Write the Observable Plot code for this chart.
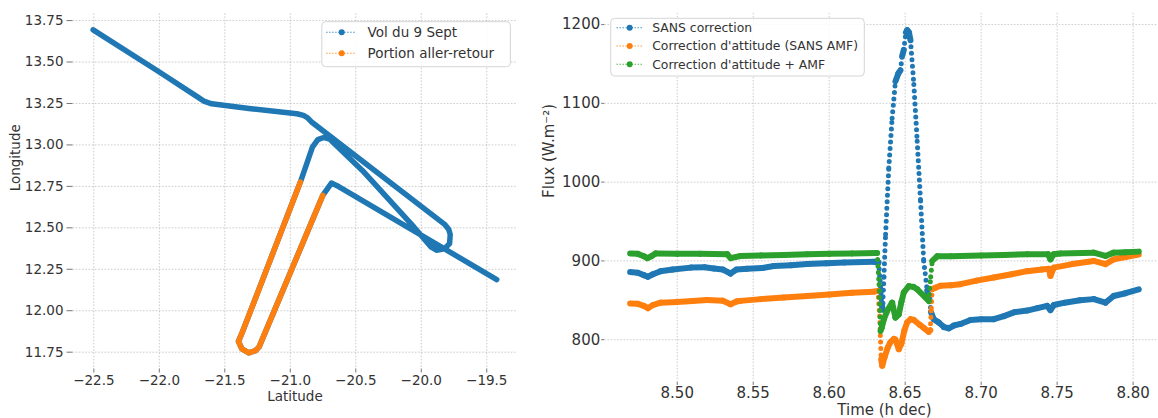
<!DOCTYPE html>
<html><head><meta charset="utf-8">
<script src="https://cdn.jsdelivr.net/npm/d3@7"></script>
<script src="https://cdn.jsdelivr.net/npm/@observablehq/plot@0.6"></script>
<style>
html,body{margin:0;padding:0;background:#fff;overflow:hidden;}
#wrap{position:relative;width:1158px;height:418px;font-family:"DejaVu Sans",sans-serif;}
#wrap > svg{position:absolute;top:0;}
</style></head><body><div id="wrap"></div>
<script>
// ---------- Left panel: flight track (Latitude, Longitude) ----------
const flightTrack = [
  [-22.505,13.694],[-22.0,13.44],[-21.70,13.285],[-21.655,13.262],[-21.60,13.248],
  [-21.3,13.218],[-20.95,13.188],[-20.90,13.178],[-20.87,13.165],[-20.84,13.14],
  [-19.819,12.519],[-19.79,12.49],[-19.779,12.459],[-19.784,12.405],[-19.824,12.373],
  [-19.884,12.365],[-19.924,12.383],[-20.055,12.504],[-20.450,12.846],[-20.70,13.035],
  [-20.745,13.045],[-20.79,13.032],[-20.831,12.987],[-20.923,12.776],[-21.370,11.863],
  [-21.396,11.815],[-21.37,11.770],[-21.317,11.746],[-21.265,11.760],[-21.238,11.782],
  [-20.752,12.696],[-20.686,12.770],[-20.647,12.756],[-19.424,12.188]
];
const roundTrip = [
  [-20.923,12.776],[-21.370,11.863],[-21.396,11.815],[-21.37,11.770],[-21.317,11.746],
  [-21.265,11.760],[-21.238,11.782],[-20.752,12.696]
];
const leftNames = ["Vol du 9 Sept", "Portion aller-retour"];
const latTicks = [-22.5,-22.0,-21.5,-21.0,-20.5,-20.0,-19.5];
const lonTicks = [11.75,12.00,12.25,12.50,12.75,13.00,13.25,13.50,13.75];

// ---------- Right panel: flux vs time ----------
const seriesNames = ["SANS correction", "Correction d'attitude (SANS AMF)", "Correction d'attitude + AMF"];
const seriesColors = ["#1f77b4", "#ff7f0e", "#2ca02c"];
const fluxSans = [
  [8.469,886],[8.474,885],[8.478,882],[8.4807,880],[8.484,883],[8.489,887],[8.497,889],
  [8.509,891.5],[8.518,892],[8.524,890.5],[8.530,889],[8.5351,884],[8.539,889],[8.546,890],
  [8.556,891],[8.5636,893.5],[8.575,894.5],[8.5855,896],[8.598,897],[8.610,898],[8.6293,899],
  [8.6325,898],[8.6335,875],[8.6345,845],[8.6352,838],[8.636,880],[8.6371,934],[8.6392,1018],
  [8.6414,1081],[8.6436,1128],[8.6455,1138],[8.6469,1142],[8.648,1160],[8.6491,1168],
  [8.6505,1190],[8.6513,1193],[8.6525,1190],[8.6535,1180],[8.6557,1124],[8.6579,1052],
  [8.6601,976],[8.6622,900],[8.6645,862],[8.6662,849],[8.667,835],[8.6688,826],[8.672,822],
  [8.6755,816],[8.6787,814.5],[8.682,818],[8.6864,820],[8.693,825],[8.700,826],[8.7083,826],
  [8.715,830],[8.722,835],[8.7303,837],[8.737,840],[8.7434,843],[8.7456,837.5],[8.7478,844],
  [8.755,847],[8.765,850],[8.7741,851.5],[8.7818,847],[8.7872,855.5],[8.795,859],[8.8037,864]
];
const fluxAttitude = [
  [8.469,846],[8.474,845.5],[8.478,843],[8.4807,840],[8.484,844],[8.489,847],[8.500,848],
  [8.510,849],[8.5197,850.5],[8.530,849.5],[8.5351,845],[8.539,848.5],[8.5416,849.3],
  [8.555,851.5],[8.570,853.5],[8.5855,855.6],[8.600,857.5],[8.615,859.5],[8.6293,861],
  [8.632,862],[8.6332,830],[8.6342,775],[8.6349,767],[8.6365,778],[8.6385,790],[8.6403,797],
  [8.6425,801],[8.6436,800],[8.6458,788],[8.6475,795],[8.6495,812],[8.6513,822],[8.6535,826],
  [8.6557,825],[8.6595,819],[8.6622,815],[8.6655,810],[8.6665,812],[8.6672,840],[8.6678,864],
  [8.6699,866],[8.6732,868.5],[8.680,869],[8.6864,870.5],[8.697,875],[8.7083,879],[8.720,883],
  [8.7303,887],[8.740,889],[8.7445,890],[8.7456,881],[8.7478,891.5],[8.760,896],[8.7741,900],
  [8.7818,896],[8.7872,902],[8.795,905],[8.8037,908]
];
const fluxAttitudeAMF = [
  [8.469,909.5],[8.474,909],[8.478,906],[8.4803,903.5],[8.483,906],[8.4857,909.5],[8.500,909],
  [8.515,909],[8.5329,908.5],[8.5351,903.5],[8.5416,906.3],[8.555,907],[8.570,907.5],
  [8.5855,908.5],[8.600,909],[8.615,909.5],[8.6316,910],[8.6328,870],[8.6338,811],[8.6345,815],
  [8.636,826],[8.6382,837],[8.6414,847],[8.6436,828],[8.6458,832],[8.6475,848],[8.6491,860],
  [8.6524,868],[8.6555,867],[8.6579,864],[8.6634,853.5],[8.6655,849],[8.6668,880],[8.6678,900],
  [8.6711,906],[8.680,906],[8.6864,906.3],[8.700,907],[8.715,907.5],[8.7303,908.5],[8.744,908.5],
  [8.7456,902],[8.7478,908.5],[8.7522,909.3],[8.7741,910.5],[8.7818,906.3],[8.7872,910.5],
  [8.795,911],[8.8037,911.8]
];
const timeTicks = [8.50,8.55,8.60,8.65,8.70,8.75,8.80];
const fluxTicks = [800,900,1000,1100,1200];

// ---------- helpers ----------
const FONT = '"DejaVu Sans", sans-serif';
const TXT = "#333333";
const pad = (ext, f = 0.05) => { const s = ext[1] - ext[0]; return [ext[0] - s * f, ext[1] + s * f]; };
const gridStyle = {stroke: "#b8b8b8", strokeOpacity: 0.9, strokeWidth: 0.8, strokeDasharray: "1.6,1.6"};
const wrap = document.getElementById("wrap");

// ---------- Left plot ----------
const left = Plot.plot({
  width: 530, height: 418,
  marginLeft: 72.5, marginRight: 13.6, marginTop: 13.2, marginBottom: 49.5,
  style: {fontFamily: FONT, fontSize: "13.5px", color: TXT, background: "transparent"},
  x: {domain: pad(d3.extent(flightTrack, d => d[0]))},
  y: {domain: pad(d3.extent(flightTrack, d => d[1]))},
  marks: [
    Plot.gridX(latTicks, gridStyle),
    Plot.gridY(lonTicks, gridStyle),
    Plot.axisX({ticks: latTicks, tickFormat: d3.format(".1f"), tickSize: 4, tickPadding: 2, stroke: "#777", label: null}),
    Plot.axisY({ticks: lonTicks, tickFormat: d3.format(".2f"), tickSize: 6, tickPadding: 3.5, stroke: "#777", label: null}),
    Plot.line(flightTrack, {x: d => d[0], y: d => d[1], stroke: seriesColors[0], strokeWidth: 5.5, strokeLinecap: "round", strokeLinejoin: "round"}),
    Plot.line(roundTrip, {x: d => d[0], y: d => d[1], stroke: seriesColors[1], strokeWidth: 5.5, strokeLinecap: "round", strokeLinejoin: "round"}),
    Plot.text(["Latitude"], {text: d => d, frameAnchor: "bottom", dy: 32, fontSize: 13.5, fill: TXT}),
    Plot.text(["Longitude"], {text: d => d, frameAnchor: "left", dx: -57.5, rotate: -90, fontSize: 13.5, fill: TXT})
  ]
});
left.style.left = "0px";
wrap.appendChild(left);

// ---------- Right plot ----------
const allSeries = [fluxSans, fluxAttitude, fluxAttitudeAMF];
const allPts = allSeries.flat();
const segs = [];
allSeries.forEach((pts, si) => {
  for (let i = 0; i < pts.length - 1; i++) {
    const a = pts[i], b = pts[i + 1];
    const slope = Math.abs((b[1] - a[1]) / (b[0] - a[0]));
    segs.push({x1: a[0], y1: a[1], x2: b[0], y2: b[1], s: si, steep: slope > 15000});
  }
});
const seriesMarks = [];
[0, 1, 2].forEach(si => {
  seriesMarks.push(Plot.link(segs.filter(d => d.s === si && !d.steep), {
    x1: "x1", y1: "y1", x2: "x2", y2: "y2", stroke: seriesColors[si], strokeWidth: 6, strokeLinecap: "round"}));
  seriesMarks.push(Plot.link(segs.filter(d => d.s === si && d.steep), {
    x1: "x1", y1: "y1", x2: "x2", y2: "y2", stroke: seriesColors[si], strokeWidth: 5, strokeLinecap: "round", strokeDasharray: "0 6.5"}));
});
const right = Plot.plot({
  width: 623.7, height: 418,
  marginLeft: 64.2, marginRight: 0, marginTop: 12.8, marginBottom: 36,
  style: {fontFamily: FONT, fontSize: "15px", color: TXT, background: "transparent"},
  x: {domain: pad(d3.extent(allPts, d => d[0]))},
  y: {domain: pad(d3.extent(allPts, d => d[1]))},
  marks: [
    Plot.gridX(timeTicks, gridStyle),
    Plot.gridY(fluxTicks, gridStyle),
    Plot.axisX({ticks: timeTicks, tickFormat: d3.format(".2f"), tickSize: 3, tickPadding: 1.5, stroke: "#777", label: null}),
    Plot.axisY({ticks: fluxTicks, tickFormat: d3.format("d"), tickSize: 3, tickPadding: 1.5, stroke: "#777", label: null}),
    ...seriesMarks,
    Plot.text(["Time (h dec)"], {text: d => d, frameAnchor: "bottom", dy: 32.5, fontSize: 15, fill: TXT}),
    Plot.text(["Flux (W.m⁻²)"], {text: d => d, frameAnchor: "left", dx: -56, rotate: -90, fontSize: 15, fill: TXT})
  ]
});
right.style.left = "540px";
wrap.appendChild(right);

// ---------- Legends (overlay) ----------
const ov = d3.select(wrap).append("svg")
  .attr("width", 1158).attr("height", 418)
  .style("position", "absolute").style("left", "0px").style("top", "0px")
  .style("font-family", FONT);
function legend(box, rows, lineX, dotX, textX, fs, names, colors) {
  ov.append("rect").attr("x", box[0]).attr("y", box[1]).attr("width", box[2]).attr("height", box[3])
    .attr("rx", 4).attr("fill", "#fff").attr("fill-opacity", 0.85).attr("stroke", "#d5d5d5").attr("stroke-width", 1);
  names.forEach((n, i) => {
    const y = rows[i];
    ov.append("line").attr("x1", lineX[0]).attr("x2", lineX[1]).attr("y1", y).attr("y2", y)
      .attr("stroke", colors[i]).attr("stroke-width", 1.1).attr("stroke-dasharray", "1.2,1.8");
    ov.append("circle").attr("cx", dotX).attr("cy", y).attr("r", 3).attr("fill", colors[i]);
    ov.append("text").attr("x", textX).attr("y", y).attr("dy", "0.35em").attr("font-size", fs)
      .attr("fill", TXT).text(n);
  });
}
legend([321.8, 21.7, 188.6, 45], [32.3, 53.3], [326.3, 355.5], 341.7, 367.6, 13.5, leftNames, seriesColors.slice(0, 2));
legend([610.7, 18.3, 253.6, 57.7], [27.7, 46, 64.2], [616.6, 642.3], 629.7, 652.2, 12.4, seriesNames, seriesColors);
</script></body></html>
